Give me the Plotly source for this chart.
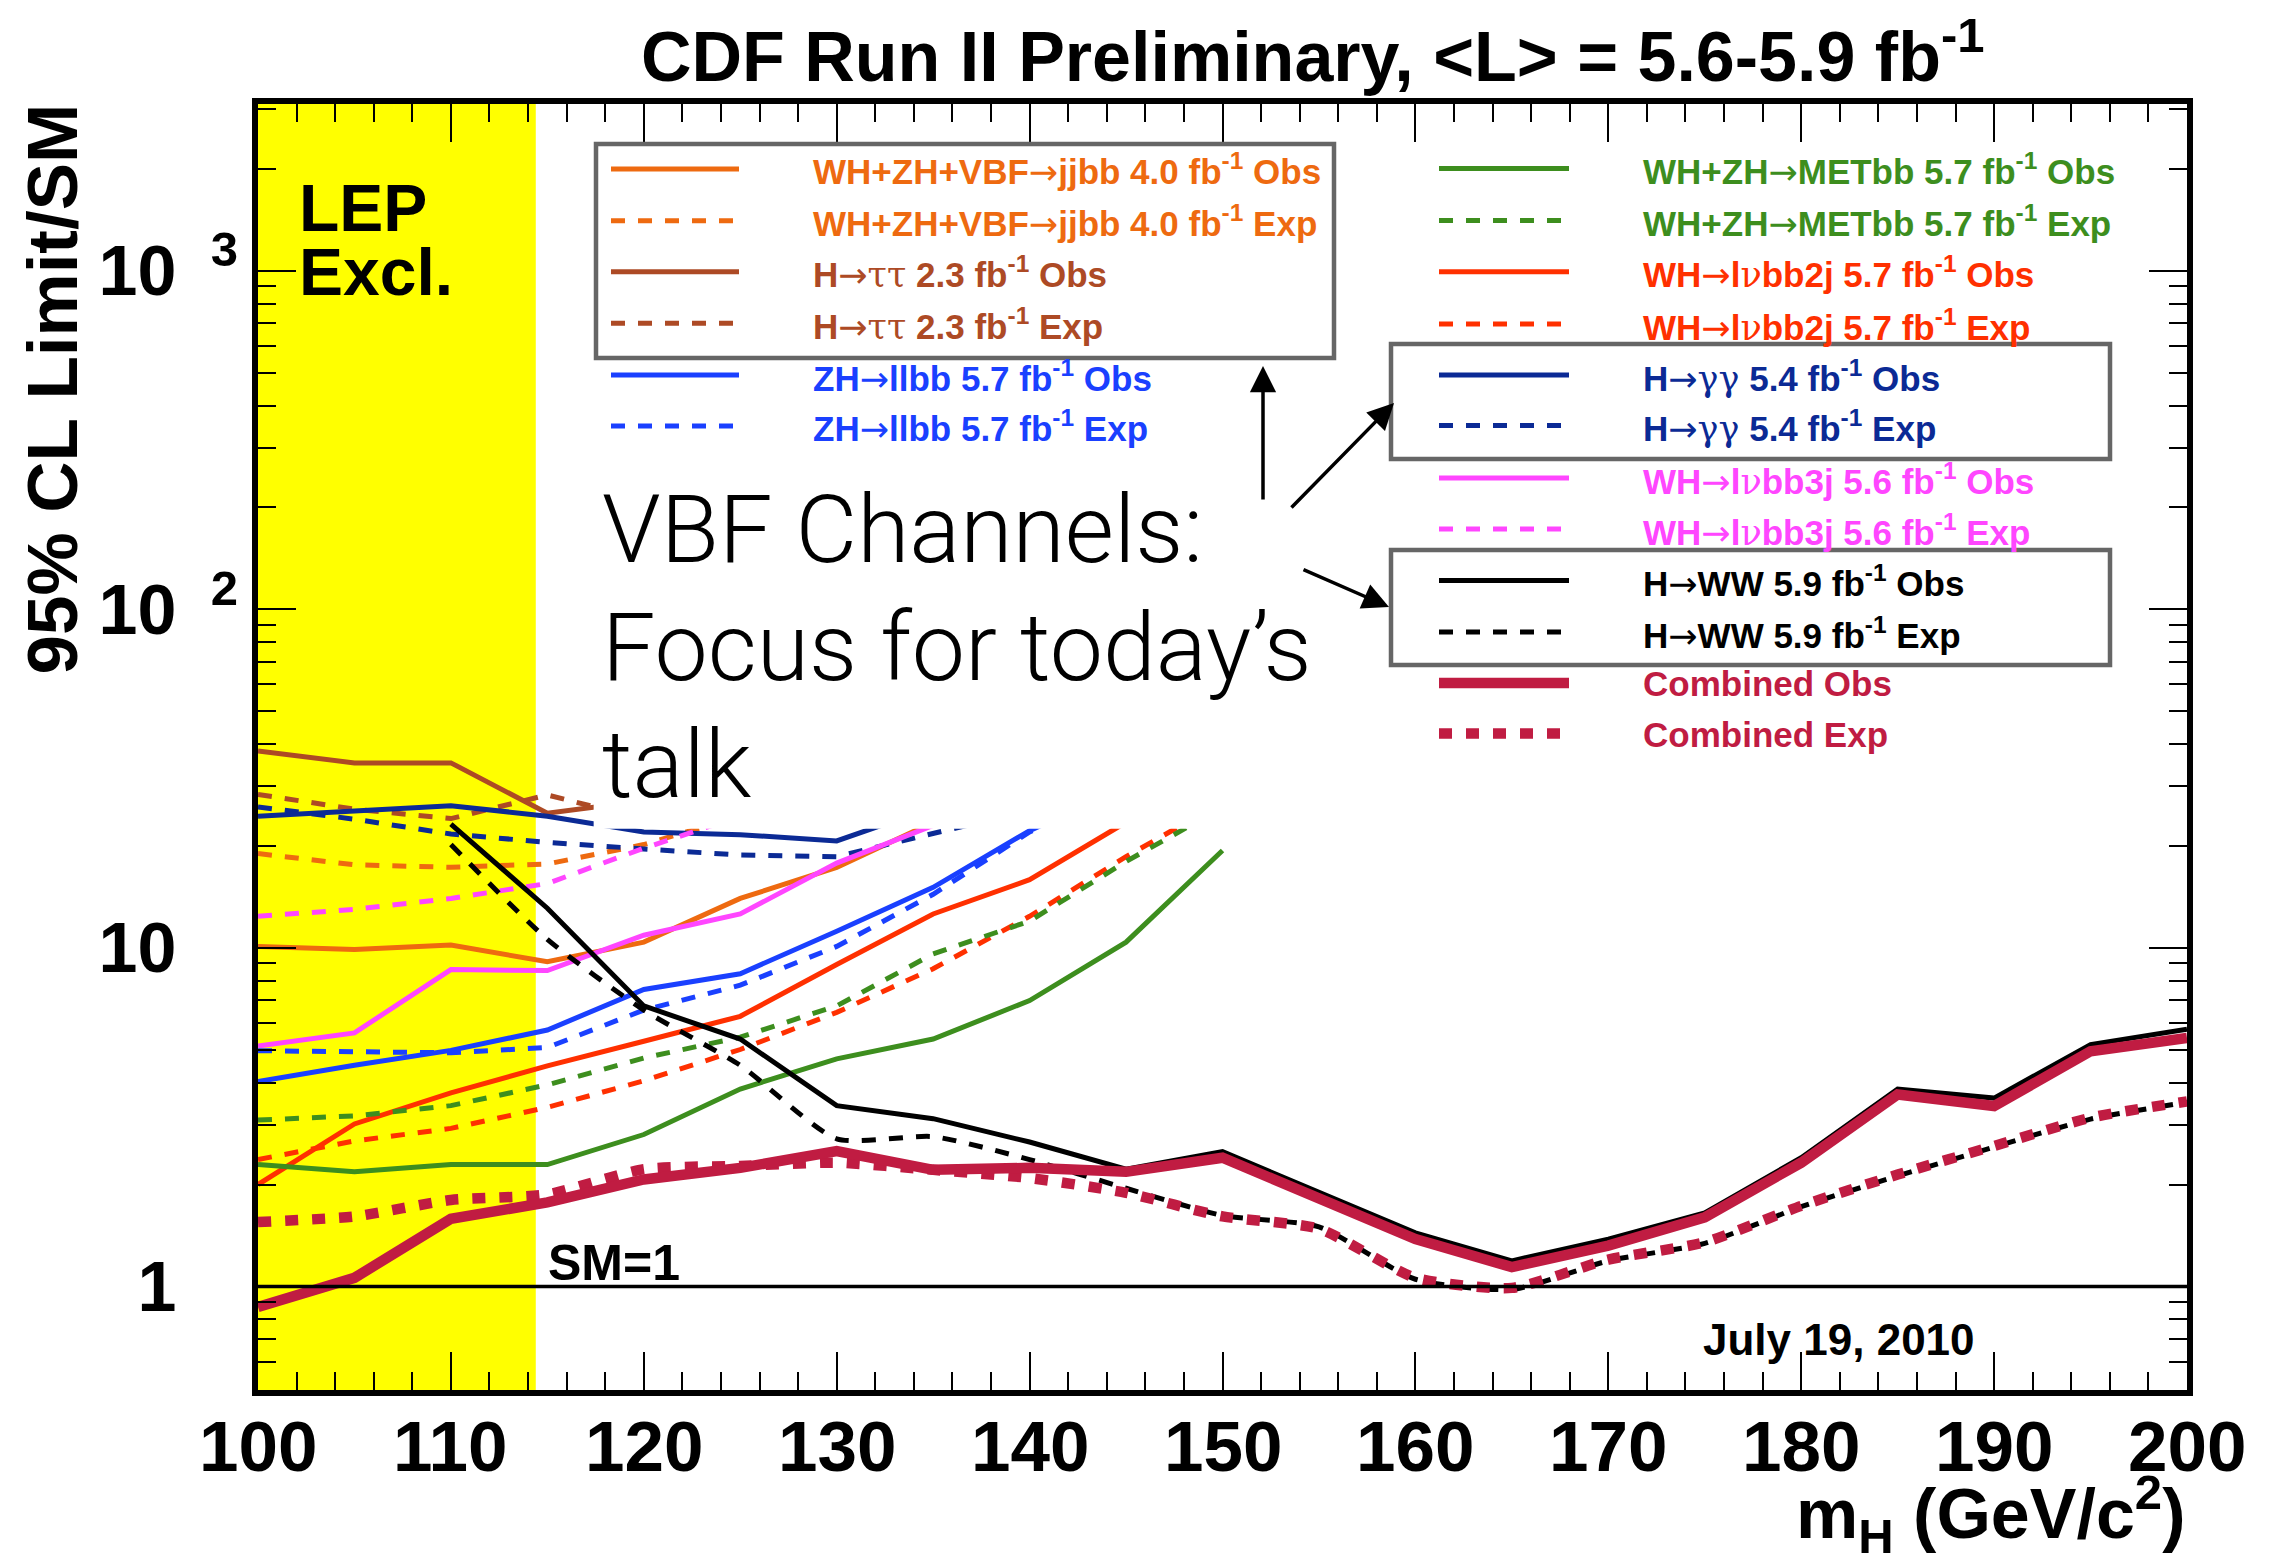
import plotly.graph_objects as go

# ---------------- data ----------------
mass_100_150 = [100, 105, 110, 115, 120, 125, 130, 135, 140, 145, 150]
mass_100_200 = [100, 105, 110, 115, 120, 125, 130, 135, 140, 145, 150,
                155, 160, 165, 170, 175, 180, 185, 190, 195, 200]
mass_110_200 = mass_100_200[2:]

jjbb_obs = [10.1, 9.9, 10.2, 9.1, 10.4, 14.0, 17.3, 23.5, 29.0]
jjbb_exp = [19.0, 17.6, 17.3, 17.7, 20.2, 24.5, 29.0]
tautau_obs = [38.2, 35.2, 35.2, 25.0, 27.2]
tautau_exp = [28.4, 25.7, 24.1, 28.3, 24.0]
llbb_obs = [4.03, 4.50, 4.98, 5.72, 7.54, 8.39, 11.2, 15.1, 22.2, 30.0]
llbb_exp = [4.97, 4.94, 4.90, 5.08, 6.55, 7.76, 10.1, 14.4, 22.0, 30.0]
metbb_obs = [2.29, 2.18, 2.29, 2.29, 2.81, 3.83, 4.70, 5.38, 6.99, 10.4, 19.4]
metbb_exp = [3.10, 3.19, 3.42, 3.94, 4.73, 5.45, 6.74, 9.6, 12.0, 18.0, 26.0]
lvbb2j_obs = [2.00, 3.02, 3.73, 4.48, 5.30, 6.28, 8.93, 12.6, 15.9, 23.5, 33.0]
lvbb2j_exp = [2.37, 2.69, 2.93, 3.38, 4.05, 5.01, 6.45, 8.68, 12.4, 18.6, 27.0]
gg_obs = [24.5, 25.4, 26.3, 24.5, 22.0, 21.6, 20.7, 26.0, 31.0]
gg_exp = [26.1, 24.0, 21.7, 20.5, 19.6, 18.8, 18.6, 21.8, 25.5]
lvbb3j_obs = [5.13, 5.61, 8.63, 8.57, 10.9, 12.6, 17.8, 23.0, 28.0]
lvbb3j_exp = [12.4, 13.0, 14.0, 15.5, 19.7, 24.5, 29.0]
hww_obs = [23.2, 13.1, 6.74, 5.38, 3.42, 3.13, 2.67, 2.22, 2.50, 1.89,
           1.44, 1.19, 1.38, 1.65, 2.40, 3.83, 3.60, 5.18, 5.75]
hww_exp = [20.2, 10.6, 6.55, 4.50, 2.73, 2.77, 2.37, 1.95, 1.62, 1.50,
           1.05, 0.98, 1.19, 1.34, 1.72, 2.12, 2.58, 3.12, 3.50]
comb_obs = [0.87, 1.06, 1.585, 1.77, 2.07, 2.24, 2.51, 2.21, 2.24, 2.18, 2.40,
            1.83, 1.38, 1.14, 1.32, 1.60, 2.32, 3.69, 3.41, 4.95, 5.42]
comb_exp = [1.55, 1.61, 1.80, 1.87, 2.22, 2.27, 2.32, 2.21, 2.09, 1.89, 1.61,
            1.48, 1.06, 0.99, 1.20, 1.35, 1.73, 2.14, 2.60, 3.15, 3.52]
sm_x = [100, 200]
sm_y = [1, 1]
lep_limit = [100, 114.4]

ytick_vals = [1, 10, 100, 1000]
xtick_vals = [100, 110, 120, 130, 140, 150, 160, 170, 180, 190, 200]
xtick_text = ["100", "110", "120", "130", "140", "150", "160", "170", "180", "190", "200"]

ARW = '<span style="font-family:DejaVu Sans;font-weight:normal">→</span>'


def greek(s):
    return '<span style="font-family:DejaVu Serif;font-weight:normal">' + s + '</span>'


legend_left = [
    ("WH+ZH+VBF" + ARW + "jjbb 4.0 fb<sup>-1</sup> Obs", "jjbb", "solid"),
    ("WH+ZH+VBF" + ARW + "jjbb 4.0 fb<sup>-1</sup> Exp", "jjbb", "dash"),
    ("H" + ARW + greek("ττ") + " 2.3 fb<sup>-1</sup> Obs", "tt", "solid"),
    ("H" + ARW + greek("ττ") + " 2.3 fb<sup>-1</sup> Exp", "tt", "dash"),
    ("ZH" + ARW + "llbb 5.7 fb<sup>-1</sup> Obs", "llbb", "solid"),
    ("ZH" + ARW + "llbb 5.7 fb<sup>-1</sup> Exp", "llbb", "dash"),
]
legend_right = [
    ("WH+ZH" + ARW + "METbb 5.7 fb<sup>-1</sup> Obs", "met", "solid"),
    ("WH+ZH" + ARW + "METbb 5.7 fb<sup>-1</sup> Exp", "met", "dash"),
    ("WH" + ARW + "l" + greek("ν") + "bb2j 5.7 fb<sup>-1</sup> Obs", "2j", "solid"),
    ("WH" + ARW + "l" + greek("ν") + "bb2j 5.7 fb<sup>-1</sup> Exp", "2j", "dash"),
    ("H" + ARW + greek("γγ") + " 5.4 fb<sup>-1</sup> Obs", "gg", "solid"),
    ("H" + ARW + greek("γγ") + " 5.4 fb<sup>-1</sup> Exp", "gg", "dash"),
    ("WH" + ARW + "l" + greek("ν") + "bb3j 5.6 fb<sup>-1</sup> Obs", "3j", "solid"),
    ("WH" + ARW + "l" + greek("ν") + "bb3j 5.6 fb<sup>-1</sup> Exp", "3j", "dash"),
    ("H" + ARW + "WW 5.9 fb<sup>-1</sup> Obs", "ww", "solid"),
    ("H" + ARW + "WW 5.9 fb<sup>-1</sup> Exp", "ww", "dash"),
    ("Combined Obs", "comb", "solid"),
    ("Combined Exp", "comb", "dash"),
]

# ---------------- styling ----------------
COL = {
    "jjbb": "#EE6A10", "tt": "#AD4A25", "llbb": "#1A40FF", "met": "#3D8E1E",
    "2j": "#FF3000", "gg": "#0B2A95", "3j": "#FF46FF", "ww": "#000000",
    "comb": "#C01C42",
}
FONT = "Liberation Sans, Arial, Helvetica, sans-serif"
LW = 5
DASH = "14px,13px"
W, H = 2269, 1564
L, R, T, B = 258, 2187, 104, 1390


def px(x):
    return (x - L) / (R - L)


def py(y):
    return (B - y) / (B - T)


fig = go.Figure()


def add_line(x, y, key, dash="solid", width=LW, shape="linear"):
    fig.add_trace(go.Scatter(
        x=x, y=y, mode="lines", showlegend=False, hoverinfo="skip",
        line=dict(color=COL[key], width=width,
                  dash=(DASH if dash == "dash" else dash), shape=shape,
                  smoothing=0.6 if shape == "spline" else None)))


add_line(mass_100_150[:len(tautau_exp)], tautau_exp, "tt", "dash")
add_line(mass_100_150[:len(tautau_obs)], tautau_obs, "tt")
add_line(mass_100_150[:len(jjbb_exp)], jjbb_exp, "jjbb", "dash")
add_line(mass_100_150[:len(jjbb_obs)], jjbb_obs, "jjbb")
add_line(mass_100_150[:len(gg_exp)], gg_exp, "gg", "dash")
add_line(mass_100_150[:len(gg_obs)], gg_obs, "gg")
add_line(mass_100_150[:len(lvbb3j_exp)], lvbb3j_exp, "3j", "dash")
add_line(mass_100_150[:len(lvbb3j_obs)], lvbb3j_obs, "3j")
add_line(mass_100_150[:len(llbb_exp)], llbb_exp, "llbb", "dash")
add_line(mass_100_150[:len(llbb_obs)], llbb_obs, "llbb")
add_line(mass_100_150[:len(lvbb2j_exp)], lvbb2j_exp, "2j", "dash")
add_line(mass_100_150[:len(lvbb2j_obs)], lvbb2j_obs, "2j")
add_line(mass_100_150[:len(metbb_exp)], metbb_exp, "met", "dash")
add_line(mass_100_150[:len(metbb_obs)], metbb_obs, "met")
add_line(mass_110_200, hww_exp, "ww", "dash", shape="spline")
add_line(mass_110_200, hww_obs, "ww")
add_line(mass_100_200, comb_exp, "comb", "13px,14px", width=10.5, shape="spline")
add_line(mass_100_200, comb_obs, "comb", width=10.5)
fig.add_trace(go.Scatter(x=sm_x, y=sm_y, mode="lines", showlegend=False,
                         hoverinfo="skip", line=dict(color="black", width=3.5)))

shapes = []
# LEP exclusion band
shapes.append(dict(type="rect", xref="x", yref="paper", x0=lep_limit[0], x1=lep_limit[1],
                   y0=0, y1=1, fillcolor="#FFFF00", line=dict(width=0), layer="below"))
# white legend background hiding the upper part of the curves
shapes.append(dict(type="rect", xref="x", yref="y", x0=117.4, x1=157, y0=22.5, y1=200,
                   fillcolor="white", line=dict(width=0), layer="above"))
# legend boxes
for (x0, y0, x1, y1) in [(596, 144, 1334, 358), (1391, 344, 2110, 459), (1391, 550, 2110, 665)]:
    shapes.append(dict(type="rect", xref="paper", yref="paper", x0=px(x0), x1=px(x1),
                       y0=py(y1), y1=py(y0), line=dict(color="#666666", width=4.5),
                       fillcolor="rgba(0,0,0,0)", layer="above"))

annotations = []
left_rows = [169, 220.7, 271.7, 323.3, 375, 426]
right_rows = [168.4, 220.4, 271.7, 324, 375, 425.5, 478, 529, 580.5, 632, 683, 733.6]


def legend_block(items, rows, lx0, lx1, tx):
    for (txt, key, dash), yy in zip(items, rows):
        w = 10.5 if key == "comb" else LW
        d = "solid" if dash == "solid" else ("13px,14px" if key == "comb" else DASH)
        shapes.append(dict(type="line", xref="paper", yref="paper", x0=px(lx0), x1=px(lx1),
                           y0=py(yy), y1=py(yy), line=dict(color=COL[key], width=w, dash=d),
                           layer="above"))
        annotations.append(dict(xref="paper", yref="paper", x=px(tx), y=py(yy + 1),
                                xanchor="left", yanchor="middle", showarrow=False, text=txt,
                                font=dict(family=FONT, size=35, color=COL[key], weight="bold")))


legend_block(legend_left, left_rows, 611, 739, 811)
legend_block(legend_right, right_rows, 1439, 1569, 1641)


def text(x, y, s, size, xanchor="left", yanchor="middle", color="black", weight="bold",
         family=FONT, angle=0):
    annotations.append(dict(xref="paper", yref="paper", x=px(x), y=py(y), text=s,
                            xanchor=xanchor, yanchor=yanchor, showarrow=False, textangle=angle,
                            font=dict(family=family, size=size, color=color, weight=weight)))


# x tick labels (placed closer to the frame than plotly's axis labels allow)
for v, s in zip(xtick_vals, xtick_text):
    annotations.append(dict(xref="x", yref="paper", x=v, y=py(1446), text=s,
                            xanchor="center", yanchor="middle", showarrow=False,
                            font=dict(family=FONT, size=71, color="black", weight="bold")))

# title
text(1313, 52, "CDF Run II Preliminary, &lt;L&gt; = 5.6-5.9 fb<sup>-1</sup>", 70, xanchor="center")
# axis titles
text(52, 102, "95% CL Limit/SM", 71, xanchor="center", yanchor="top", angle=-90)
text(2187, 1514, "m<sub>H</sub> (GeV/c<sup>2</sup>)", 70, xanchor="right")
# labels in the plot
text(297, 208, "LEP", 66)
text(297, 272, "Excl.", 66)
text(546, 1263, "SM=1", 50)
text(1701, 1339, "July 19, 2010", 44)
LIGHT = "Roboto, Lato, Open Sans, sans-serif"
text(600, 529, "VBF Channels:", 95, weight=300, family=LIGHT)
text(600, 647, "Focus for today’s", 95, weight=300, family=LIGHT)
text(600, 765, "talk", 95, weight=300, family=LIGHT)

# arrows
for (tx, ty, ax, ay) in [(1263, 366, 0, 135), (1394, 403, -104, 106), (1389, 607, -87, -38)]:
    annotations.append(dict(xref="paper", yref="paper", x=px(tx), y=py(ty), ax=ax, ay=ay,
                            text="", showarrow=True, arrowhead=2, arrowsize=1.5,
                            arrowwidth=3.5, arrowcolor="black", standoff=0))

inv = '<span style="color:rgba(0,0,0,0)">\u2002\u20093</span>'
ytick_text = ["1<sup>" + inv + "</sup>", "10<sup>" + inv + "</sup>",
              "10<sup>\u2002\u20092</sup>", "10<sup>\u2002\u20093</sup>"]

y_minor = [0.6, 0.7, 0.8, 0.9] + [k * d for d in (1, 10, 100) for k in range(2, 10)] + [2000, 3000]

fig.update_layout(
    width=W, height=H,
    margin=dict(l=L, r=W - R, t=T, b=H - B),
    paper_bgcolor="white", plot_bgcolor="white",
    showlegend=False,
    shapes=shapes, annotations=annotations,
    xaxis=dict(range=[100, 200], showgrid=False, zeroline=False, showline=True,
               linecolor="black", linewidth=6, mirror="allticks", ticks="inside",
               ticklen=38, tickwidth=2, tickcolor="black", tickmode="array",
               tickvals=xtick_vals, showticklabels=False,
               minor=dict(ticks="inside", ticklen=18, tickwidth=2, tickcolor="black",
                          dtick=2, tick0=100, showgrid=False)),
    yaxis=dict(type="log", range=[-0.306, 3.493], showgrid=False, zeroline=False,
               showline=True, linecolor="black", linewidth=6, mirror="allticks",
               ticks="inside", ticklen=38, tickwidth=2, tickcolor="black",
               tickmode="array", tickvals=ytick_vals, ticktext=ytick_text,
               tickfont=dict(family=FONT, size=70, color="black", weight="bold"),
               ticklabelstandoff=0,
               minor=dict(ticks="inside", ticklen=18, tickwidth=2, tickcolor="black",
                          tickvals=y_minor, showgrid=False)),
)

fig.write_html("out.html")
